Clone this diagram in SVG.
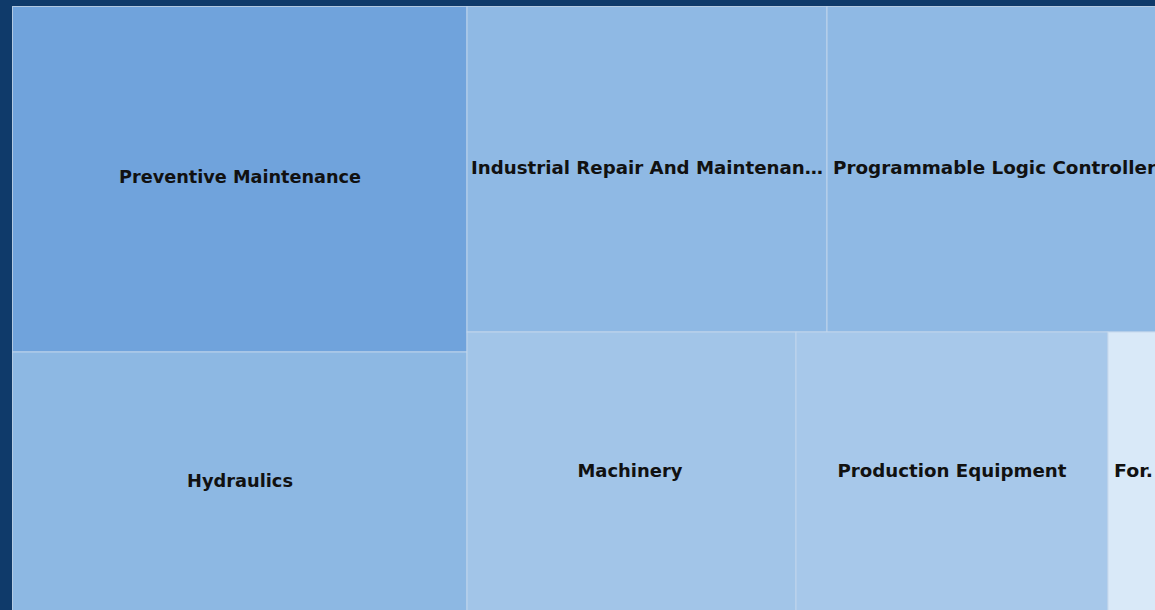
<svg xmlns="http://www.w3.org/2000/svg" width="1155" height="610" viewBox="0 0 1155 610">
<style>
.cell{stroke:#c6d8ec;stroke-width:1;stroke-opacity:0.85}
.lbl{font-family:"DejaVu Sans","Open Sans",sans-serif;font-weight:bold;font-size:18px;fill:#111}
.c{text-anchor:middle}
</style>
<rect x="0" y="0" width="1155" height="610" fill="#0f3a6a"/>
<g id="preventive-maintenance">
<rect class="cell" x="12.5" y="6.5" width="454.5" height="345.5" fill="#70a3dc"/>
<text class="lbl c" x="240" y="182.5" textLength="242" lengthAdjust="spacingAndGlyphs">Preventive Maintenance</text>
</g>
<g id="hydraulics">
<rect class="cell" x="12.5" y="352" width="454.5" height="262" fill="#8db8e3"/>
<text class="lbl c" x="240" y="486.5" textLength="106" lengthAdjust="spacingAndGlyphs">Hydraulics</text>
</g>
<g id="industrial-repair">
<rect class="cell" x="467" y="6.5" width="360" height="325.5" fill="#8fb9e4"/>
<text class="lbl" x="471" y="173.5" textLength="352" lengthAdjust="spacingAndGlyphs">Industrial Repair And Maintenan…</text>
</g>
<g id="plc">
<rect class="cell" x="827" y="6.5" width="334" height="325.5" fill="#8fb9e4"/>
<text class="lbl" x="833" y="173.5" textLength="323" lengthAdjust="spacingAndGlyphs">Programmable Logic Controller</text>
</g>
<g id="machinery">
<rect class="cell" x="467" y="332" width="329" height="282" fill="#a2c5e8"/>
<text class="lbl c" x="630" y="476.5" textLength="105" lengthAdjust="spacingAndGlyphs">Machinery</text>
</g>
<g id="production-equipment">
<rect class="cell" x="796" y="332" width="312" height="282" fill="#a7c8ea"/>
<text class="lbl c" x="952" y="476.5" textLength="229" lengthAdjust="spacingAndGlyphs">Production Equipment</text>
</g>
<g id="for">
<rect class="cell" x="1108" y="332" width="60" height="282" fill="#d9e9f8"/>
<text class="lbl" x="1114" y="476.5" textLength="39" lengthAdjust="spacingAndGlyphs">For.</text>
</g>
<g id="connectors"></g>
</svg>
